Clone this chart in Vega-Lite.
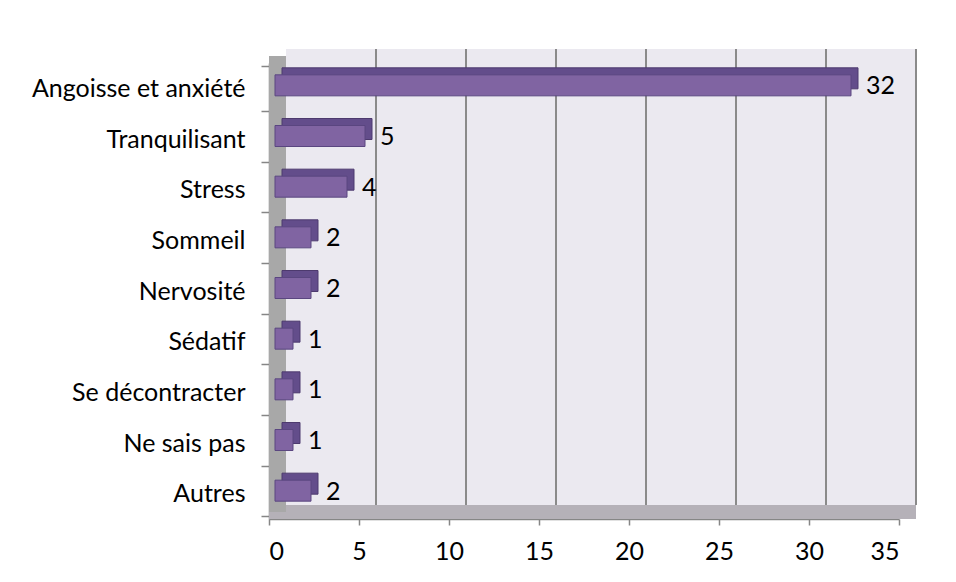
{
  "$schema": "https://vega.github.io/schema/vega-lite/v6.json",
  "width": 630,
  "height": 456,
  "autosize": "none",
  "padding": {"left": 269, "top": 63, "right": 57, "bottom": 63},
  "background": "white",
  "config": {
    "view": {"stroke": null},
    "font": "Lato",
    "axis": {"labelFont": "Lato", "labelFontSize": 25, "labelColor": "#000000", "domainColor": "#868686", "tickColor": "#868686", "domainWidth": 1.5, "tickWidth": 1.5, "zindex": 1, "grid": false, "title": null, "labelLimit": 0}
  },
  "datasets": {
    "counts": [
      {"motif": "Angoisse et anxiété", "n": 32},
      {"motif": "Tranquilisant", "n": 5},
      {"motif": "Stress", "n": 4},
      {"motif": "Sommeil", "n": 2},
      {"motif": "Nervosité", "n": 2},
      {"motif": "Sédatif", "n": 1},
      {"motif": "Se décontracter", "n": 1},
      {"motif": "Ne sais pas", "n": 1},
      {"motif": "Autres", "n": 2}
    ],
    "grid": [{"v": 5}, {"v": 10}, {"v": 15}, {"v": 20}, {"v": 25}, {"v": 30}, {"v": 35}],
    "frame": [{"lo": 0, "hi": 35}]
  },
  "layer": [
    {
      "data": {"name": "frame"},
      "mark": {"type": "rect", "fill": "#ebe9f0", "xOffset": 17, "x2Offset": 17, "yOffset": -14, "y2Offset": -14},
      "encoding": {
        "x": {"field": "lo", "type": "quantitative", "scale": {"domain": [0, 35]}},
        "x2": {"field": "hi"},
        "y": {"value": 0},
        "y2": {"value": "height"}
      }
    },
    {
      "data": {"name": "frame"},
      "mark": {"type": "rect", "fill": "#b5b1b8", "x2Offset": 17, "y2Offset": -14},
      "encoding": {
        "x": {"field": "lo", "type": "quantitative"},
        "x2": {"field": "hi"},
        "y": {"value": "height"},
        "y2": {"value": "height"}
      }
    },
    {
      "data": {"name": "frame"},
      "mark": {"type": "rect", "fill": "#a8a8a8", "x2Offset": 17, "yOffset": -7, "y2Offset": -7},
      "encoding": {
        "x": {"field": "lo", "type": "quantitative"},
        "x2": {"field": "lo"},
        "y": {"value": 0},
        "y2": {"value": "height"}
      }
    },
    {
      "data": {"name": "grid"},
      "mark": {"type": "rule", "stroke": "#8a8a8a", "strokeWidth": 2, "xOffset": 17, "yOffset": -14, "y2Offset": -14},
      "encoding": {
        "x": {"field": "v", "type": "quantitative"},
        "y": {"value": 0},
        "y2": {"value": "height"}
      }
    },
    {
      "data": {"name": "counts"},
      "mark": {"type": "bar", "height": 21, "fill": "#634d8b", "stroke": "#4d3a6e", "strokeWidth": 1, "xOffset": 13, "x2Offset": 13, "yOffset": -10},
      "encoding": {
        "x": {"field": "n", "type": "quantitative"},
        "y": {"field": "motif", "type": "nominal", "sort": null}
      }
    },
    {
      "data": {"name": "counts"},
      "mark": {"type": "bar", "height": 21, "fill": "#8064a2", "stroke": "#5a4680", "strokeWidth": 1, "xOffset": 6, "x2Offset": 6, "yOffset": -3},
      "encoding": {
        "x": {"field": "n", "type": "quantitative", "title": null,
          "axis": {"values": [0, 5, 10, 15, 20, 25, 30, 35], "tickSize": 6, "labelPadding": 14, "domain": true, "ticks": true}},
        "y": {"field": "motif", "type": "nominal", "sort": null, "title": null,
          "axis": {"tickBand": "extent", "tickSize": 8, "labelPadding": 16, "domain": true, "ticks": true}}
      }
    },
    {
      "data": {"name": "counts"},
      "mark": {"type": "text", "align": "left", "baseline": "middle", "dx": 21, "yOffset": -2, "fontSize": 25, "font": "Lato", "color": "#000000"},
      "encoding": {
        "x": {"field": "n", "type": "quantitative"},
        "y": {"field": "motif", "type": "nominal", "sort": null},
        "text": {"field": "n", "type": "quantitative"}
      }
    }
  ]
}
